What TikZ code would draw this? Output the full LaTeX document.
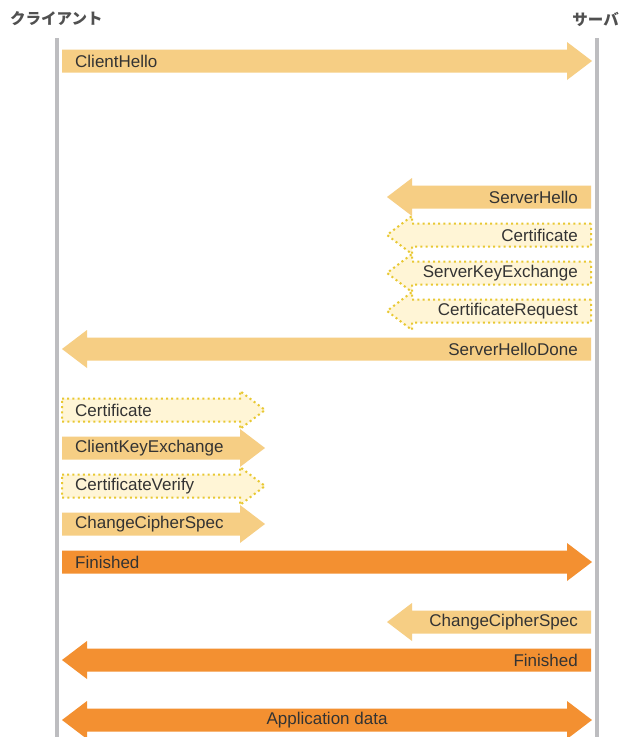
\documentclass[tikz,border=0pt]{standalone}
\usepackage{fontspec}
\setmainfont{Liberation Sans}
\newfontfamily\jpfont{Noto Sans CJK JP}
\definecolor{lightor}{HTML}{F6CE84}
\definecolor{darkor}{HTML}{F39031}
\definecolor{cream}{HTML}{FFF5D6}
\definecolor{dotyel}{HTML}{E8C832}
\definecolor{lifegray}{HTML}{BDBDC0}
\definecolor{txt}{HTML}{333333}
\definecolor{hdr}{HTML}{505050}
\tikzset{
  solidL/.style={fill=lightor,draw=none},
  solidD/.style={fill=darkor,draw=none},
  dotbox/.style={fill=cream,draw=dotyel,line width=2pt,dash pattern=on 2pt off 3.2pt},
  lbl/.style={text=txt,font=\fontsize{17}{19}\selectfont,inner sep=0pt},
  hdrlbl/.style={text=hdr,font=\jpfont\bfseries\fontsize{15.5}{17}\selectfont,inner sep=0pt},
  life/.style={draw=lifegray,line width=4pt}
}
% right-pointing arrow: style, left x, tip x, center y
\newcommand{\arrR}[4]{%
  \path[#1] (#2,#4-11.5) -- (#3-25,#4-11.5) -- (#3-25,#4-19) -- (#3,#4)
    -- (#3-25,#4+19) -- (#3-25,#4+11.5) -- (#2,#4+11.5) -- cycle;}
% left-pointing arrow: style, right x, tip x, center y
\newcommand{\arrL}[4]{%
  \path[#1] (#2,#4-11.5) -- (#3+25,#4-11.5) -- (#3+25,#4-19) -- (#3,#4)
    -- (#3+25,#4+19) -- (#3+25,#4+11.5) -- (#2,#4+11.5) -- cycle;}
\begin{document}
\begin{tikzpicture}[x=1pt,y=-1pt]
\path[use as bounding box,fill=white] (0,0) rectangle (623,737);
% headers and lifelines
\node[hdrlbl,anchor=west] (cl) at (10,19) {クライアント};
\node[hdrlbl,anchor=east] (sv) at (619,19) {サーバ};
\coordinate (clTop) at (57,38);
\coordinate (clBot) at (57,737);
\coordinate (svTop) at (597,38);
\coordinate (svBot) at (597,737);
\draw[life] (clTop) -- (clBot);
\draw[life] (svTop) -- (svBot);
% messages
\arrR{solidL}{62}{592}{61}
\node[lbl,anchor=west] (m1) at (75,61) {ClientHello};
\arrL{solidL}{591}{387}{197}
\node[lbl,anchor=east] (m2) at (578,197) {ServerHello};
\arrL{dotbox}{591}{387}{235}
\node[lbl,anchor=east] (m3) at (578,235) {Certificate};
\arrL{dotbox}{591}{387}{273}
\node[lbl,anchor=east] (m4) at (578,273) {ServerKeyExchange};
\arrL{dotbox}{591}{387}{311}
\node[lbl,anchor=east] (m5) at (578,311) {CertificateRequest};
\arrL{solidL}{591}{62}{349}
\node[lbl,anchor=east] (m6) at (578,349) {ServerHelloDone};
\arrR{dotbox}{62}{265}{410}
\node[lbl,anchor=west] (m7) at (75,410) {Certificate};
\arrR{solidL}{62}{265}{448}
\node[lbl,anchor=west] (m8) at (75,448) {ClientKeyExchange};
\arrR{dotbox}{62}{265}{486}
\node[lbl,anchor=west] (m9) at (75,486) {CertificateVerify};
\arrR{solidL}{62}{265}{524}
\node[lbl,anchor=west] (m10) at (75,524) {ChangeCipherSpec};
\arrR{solidD}{62}{592}{562}
\node[lbl,anchor=west] (m11) at (75,562) {Finished};
\arrL{solidL}{591}{387}{622}
\node[lbl,anchor=east] (m12) at (578,622) {ChangeCipherSpec};
\arrL{solidD}{591}{62}{660}
\node[lbl,anchor=east] (m13) at (578,660) {Finished};
\path[solidD] (62,720) -- (87,701) -- (87,708.5) -- (567,708.5) -- (567,701) -- (592,720)
  -- (567,739) -- (567,731.5) -- (87,731.5) -- (87,739) -- cycle;
\node[lbl] (m14) at (327,720) {Application data};
\end{tikzpicture}
\end{document}
